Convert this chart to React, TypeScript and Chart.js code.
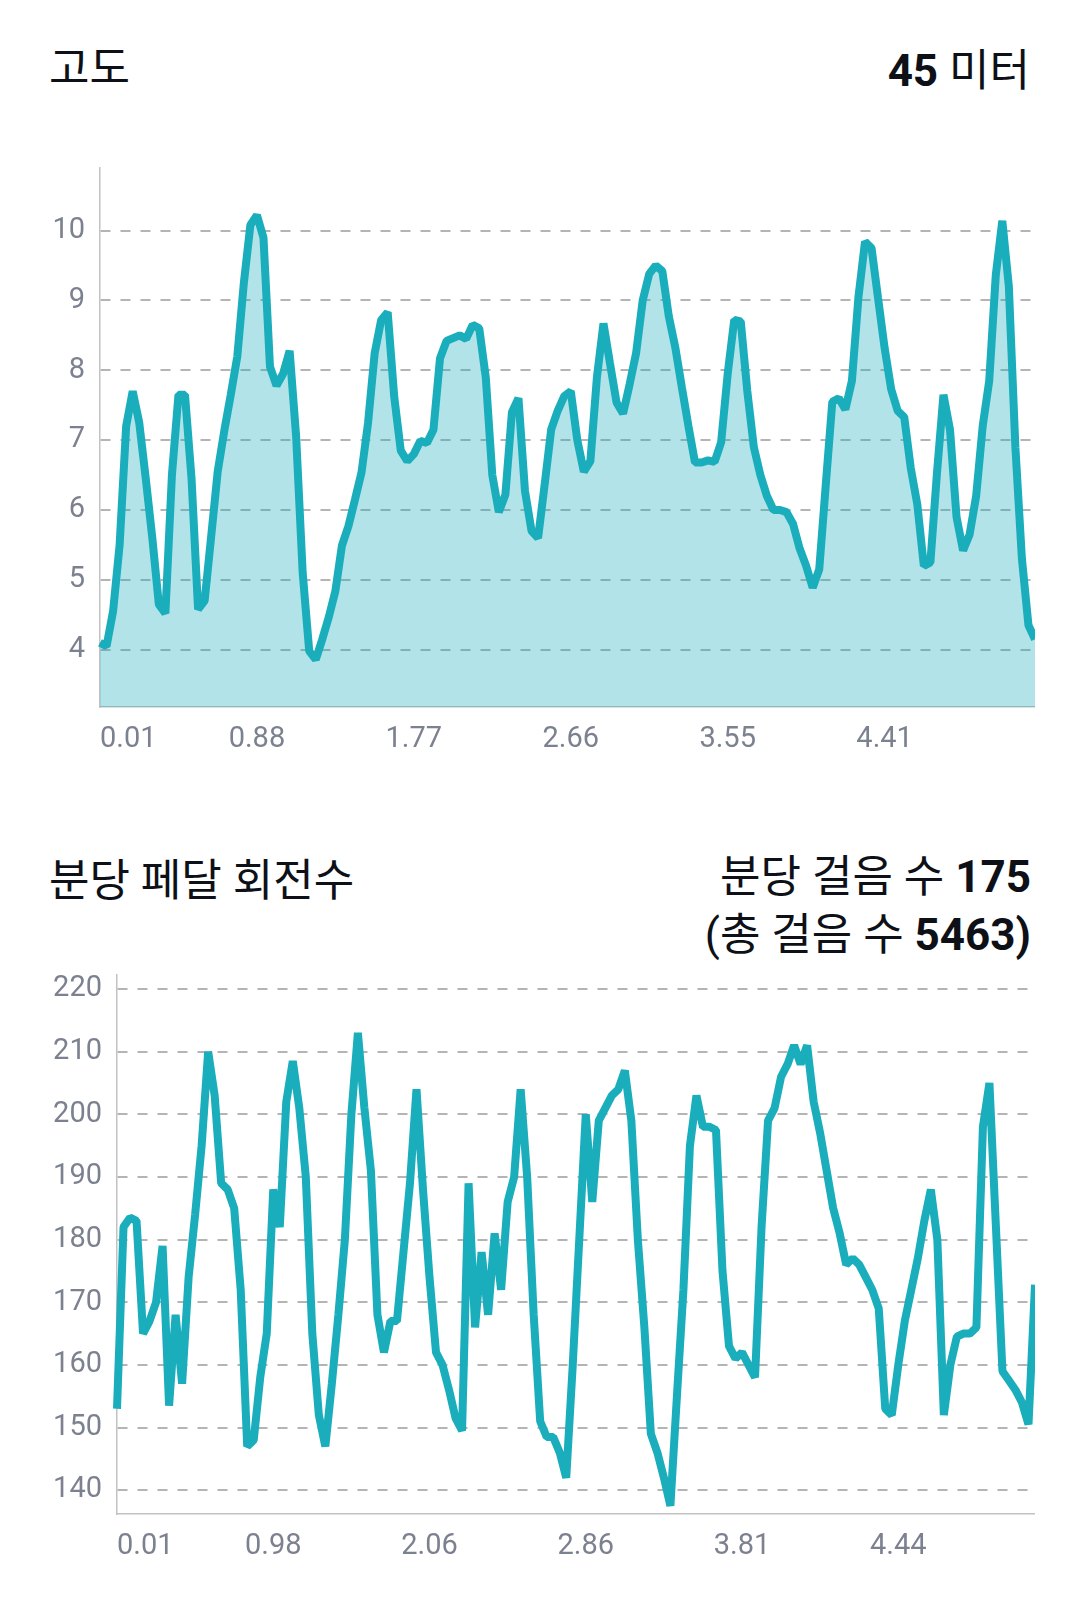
import { useEffect, useRef } from 'react';
import { Chart, registerables } from 'chart.js';

Chart.register(...registerables);

const LINE = '#1aadbb';
const FILL = 'rgba(26, 173, 187, 0.34)';
const TICK = '#7c8190';
const GRID = '#b4b4b4';
const AXIS = '#c2c2c2';

// 고도 (m), one sample per step along the ride
const altitude = [
  4.1, 4.05, 4.55, 5.5, 7.2, 7.7, 7.25, 6.45, 5.6, 4.65,
  4.52, 6.5, 7.65, 7.65, 6.45, 4.58, 4.7, 5.62, 6.55, 7.13,
  7.65, 8.2, 9.25, 10.08, 10.22, 9.9, 8.05, 7.78, 7.95, 8.28,
  7.05, 5.1, 3.98, 3.86, 4.15, 4.47, 4.84, 5.49, 5.77, 6.15,
  6.54, 7.25, 8.24, 8.72, 8.83, 7.62, 6.85, 6.7, 6.8, 6.99,
  6.96, 7.15, 8.17, 8.42, 8.46, 8.5, 8.45, 8.65, 8.6, 7.9,
  6.5, 5.97, 6.22, 7.4, 7.6, 6.27, 5.7, 5.6, 6.36, 7.15,
  7.42, 7.63, 7.7, 7.0, 6.55, 6.7, 7.9, 8.67, 8.1, 7.54,
  7.38, 7.8, 8.25, 9.0, 9.38, 9.5, 9.42, 8.77, 8.32, 7.75,
  7.2, 6.68, 6.68, 6.71, 6.69, 6.97, 7.95, 8.72, 8.7, 7.7,
  6.9, 6.5, 6.2, 6.0, 6.0, 5.97, 5.8, 5.45, 5.2, 4.89,
  5.15, 6.36, 7.55, 7.6, 7.44, 7.85, 9.05, 9.84, 9.75, 9.03,
  8.32, 7.73, 7.42, 7.33, 6.6, 6.08, 5.2, 5.25, 6.52, 7.65,
  7.15, 5.9, 5.42, 5.65, 6.2, 7.2, 7.85, 9.36, 10.14, 9.2,
  6.9, 5.3, 4.35, 4.15,
];
const altitudeDistances = ['0.01', '0.88', '1.77', '2.66', '3.55', '4.41'];

// 분당 걸음 수, one sample per step
const cadence = [
  153, 182, 183.5, 183, 165, 167, 170, 179, 153.5, 168,
  157, 174, 184, 195, 210, 203, 189, 188, 185, 172,
  147, 148, 158, 165, 188, 182, 202, 208.5, 201, 190,
  165, 152, 147, 157, 168, 180, 200, 213, 201, 191,
  168, 162, 167, 167, 178, 189, 204, 188, 174, 162,
  160, 156, 151.5, 149.5, 189, 166, 178, 168, 181, 172,
  186, 190, 204, 190, 168, 151, 148.5, 148.5, 146, 142,
  160, 180, 200, 186, 199, 201, 203, 204, 207, 199,
  180, 166, 149, 146, 142, 137.5, 155, 172, 195, 203,
  198, 198, 197.5, 175, 163, 161, 162, 160, 158, 182,
  199, 201, 206, 208, 211, 208, 211, 202, 197, 191,
  185, 181, 176, 177, 176, 174, 172, 169, 153, 152,
  160, 167, 172, 177, 183, 188, 180, 152, 160, 164.5,
  165, 165, 166, 198, 205, 182, 159, 157.5, 156, 154,
  150.5, 172.8,
];
const cadenceDistances = ['0.01', '0.98', '2.06', '2.86', '3.81', '4.44'];

// a distance label every this many samples
const LABEL_EVERY = 24;

function distanceLabels(count: number, distances: string[]) {
  return Array.from({ length: count }, (_, i) =>
    i % LABEL_EVERY === 0 ? distances[i / LABEL_EVERY] ?? '' : ''
  );
}

interface LineBlockProps {
  values: number[];
  distances: string[];
  min: number;
  max: number;
  step: number;
  axisWidth: number;
  filled: boolean;
  top: number;
}

function LineBlock({ values, distances, min, max, step, axisWidth, filled, top }: LineBlockProps) {
  const canvasRef = useRef<HTMLCanvasElement>(null);

  useEffect(() => {
    const ctx = canvasRef.current?.getContext('2d');
    if (!ctx) return;

    const tickFont = { family: 'Roboto', size: 29 };

    const chart = new Chart(ctx, {
      type: 'line',
      data: {
        labels: distanceLabels(values.length, distances),
        datasets: [
          {
            data: values,
            borderColor: LINE,
            backgroundColor: FILL,
            borderWidth: 8,
            borderJoinStyle: 'bevel',
            fill: filled ? 'start' : false,
            pointRadius: 0,
            pointHoverRadius: 0,
            tension: 0,
          },
        ],
      },
      options: {
        responsive: true,
        maintainAspectRatio: false,
        animation: false,
        events: [],
        layout: { padding: 0 },
        plugins: {
          legend: { display: false },
          tooltip: { enabled: false },
        },
        scales: {
          x: {
            type: 'category',
            offset: false,
            grid: { display: false, drawTicks: false },
            border: { display: true, color: AXIS, width: 1.5 },
            ticks: {
              autoSkip: false,
              maxRotation: 0,
              minRotation: 0,
              align: 'inner',
              padding: 15,
              color: TICK,
              font: tickFont,
            },
            afterFit: (s: any) => {
              s.height = 60;
              s.paddingLeft = 0;
              s.paddingRight = 0;
            },
          },
          y: {
            min,
            max,
            grid: { color: GRID, lineWidth: 2, drawTicks: false },
            border: { display: true, color: AXIS, width: 1.5, dash: [10, 10] },
            ticks: {
              stepSize: step,
              includeBounds: false,
              padding: 15,
              color: TICK,
              font: tickFont,
            },
            afterFit: (s: any) => {
              s.width = axisWidth;
              s.paddingTop = 0;
              s.paddingBottom = 0;
            },
          },
        },
      },
    });

    return () => chart.destroy();
  }, [values, distances, min, max, step, axisWidth, filled]);

  return (
    <div style={{ position: 'absolute', left: 50, top, width: 985, height: 600 }}>
      <canvas ref={canvasRef}></canvas>
    </div>
  );
}

export default function App() {
  return (
    <div
      style={{
        position: 'absolute',
        left: 0,
        top: 0,
        width: 1080,
        height: 1621,
        background: '#fff',
        color: '#0d1117',
        fontFamily: "Roboto, 'Noto Sans CJK KR', sans-serif",
      }}
    >
      <div style={{ position: 'absolute', left: 49, top: 47, fontSize: 44, lineHeight: '44px' }}>고도</div>
      <div style={{ position: 'absolute', right: 50, top: 49, fontSize: 44, lineHeight: '44px', whiteSpace: 'nowrap' }}>
        <b>45</b> 미터
      </div>
      <LineBlock
        values={altitude}
        distances={altitudeDistances}
        min={3.18}
        max={10.91}
        step={1}
        axisWidth={50}
        filled={true}
        top={167}
      />

      <div style={{ position: 'absolute', left: 49, top: 859, fontSize: 44, lineHeight: '44px' }}>분당 페달 회전수</div>
      <div
        style={{
          position: 'absolute',
          right: 49,
          top: 848,
          fontSize: 44,
          lineHeight: '58px',
          textAlign: 'right',
          whiteSpace: 'nowrap',
        }}
      >
        분당 걸음 수 <b>175</b>
        <br />
        (총 걸음 수 <b>5463)</b>
      </div>
      <LineBlock
        values={cadence}
        distances={cadenceDistances}
        min={136.2}
        max={222.4}
        step={10}
        axisWidth={67}
        filled={false}
        top={974}
      />
    </div>
  );
}
